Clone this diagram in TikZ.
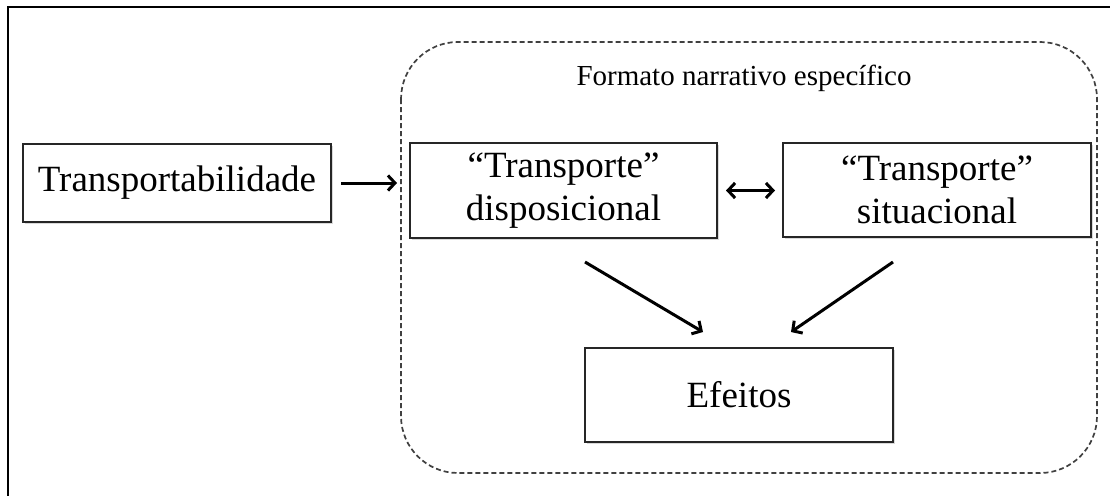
\documentclass[tikz,border=0pt]{standalone}
\usepackage{fontspec}
\setmainfont{Liberation Serif}
\usetikzlibrary{arrows.meta,shadows}

\tikzset{
  box/.style={draw=black!85, line width=2pt, fill=white, rectangle,
    align=center, inner sep=0pt,
    drop shadow={shadow xshift=1.5pt, shadow yshift=-2pt, opacity=0.3},
    font=\fontsize{37}{43}\selectfont},
  tip/.style={Straight Barb[length=7pt,width=15pt,line width=2.6pt]},
  conn/.style={line width=3pt, -{Straight Barb[length=7pt,width=15pt]}},
  biconn/.style={line width=3pt, {Straight Barb[length=7pt,width=15pt]}-{Straight Barb[length=7pt,width=15pt]}},
  group/.style={draw=black!75, line width=1.7pt, dash pattern=on 5pt off 3pt,
    rounded corners=57pt}
}

\begin{document}
\begin{tikzpicture}[x=1pt,y=-1pt]
  \useasboundingbox (0,0) rectangle (1110,495);

  % outer frame, running past the page on the right and bottom
  \begin{scope}
    \clip (0,0) rectangle (1110,495);
    \draw[line width=2.6pt] (8,520) -- (8,7) -- (1130,7);
  \end{scope}

  % dashed group around the narrative format
  \draw[group] (401,42) rectangle (1097,473);
  \node[font=\fontsize{29}{34}\selectfont] (title) at (744,78) {Formato narrativo específico};

  % boxes
  \node[box, minimum width=308pt, minimum height=78pt] (trans) at (177,183) {Transportabilidade};
  \node[box, minimum width=307pt, minimum height=95pt] (disp) at (563.5,190.5) {“Transporte”\\disposicional};
  \node[box, minimum width=308pt, minimum height=94pt] (sit) at (937,190) {“Transporte”\\situacional};
  \node[box, minimum width=308pt, minimum height=94pt] (efe) at (739,395) {Efeitos};

  % connectors
  \draw[conn, shorten <=9pt, shorten >=12pt] (trans.east) -- (trans.east -| disp.west);
  \draw[biconn, shorten <=8pt, shorten >=7pt] (disp.east) -- (disp.east -| sit.west);

  \coordinate (dspout) at (585,262);
  \coordinate (sitout) at (893,262);
  \coordinate (efeinL) at (703,332);
  \coordinate (efeinR) at (791,332);
  \draw[conn] (dspout) -- (efeinL);
  \draw[conn] (sitout) -- (efeinR);
\end{tikzpicture}
\end{document}
